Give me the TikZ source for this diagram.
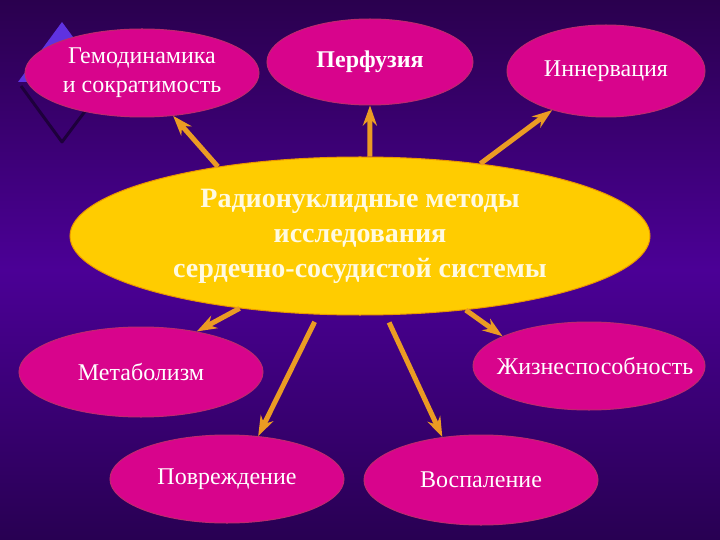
\documentclass[tikz,border=0pt]{standalone}
\usepackage{fontspec}
\setmainfont{Liberation Serif}
\usetikzlibrary{arrows.meta,shapes.geometric}
\definecolor{bgtop}{RGB}{42,0,78}
\definecolor{bgmid}{RGB}{75,0,150}
\definecolor{bgbot}{RGB}{40,0,82}
\definecolor{blobfill}{RGB}{216,4,140}
\definecolor{blobedge}{RGB}{190,40,110}
\definecolor{sunfill}{RGB}{255,204,0}
\definecolor{sunedge}{RGB}{235,150,0}
\definecolor{arrcol}{RGB}{235,155,35}
\definecolor{tricol}{RGB}{95,50,225}
\definecolor{diacol}{RGB}{30,0,60}
\newcommand\zbox[1]{\makebox[0pt]{#1}}
\begin{document}
\begin{tikzpicture}[x=1bp,y=-1bp,
  blob/.style={ellipse, fill=blobfill, draw=blobedge, line width=1bp, inner sep=0pt,
    text=white, font=\fontsize{24bp}{29bp}\selectfont},
  sun/.style={ellipse, fill=sunfill, draw=sunedge, line width=1bp, inner sep=0pt,
    text={rgb,255:red,255;green,250;blue,225}, font=\bfseries\fontsize{28bp}{35bp}\selectfont,
    minimum width=580bp, minimum height=158bp},
  arr/.style={draw=arrcol, line width=5bp, -{Stealth[length=20bp,width=14bp]}}]
\useasboundingbox (0,0) rectangle (720,540);
\shade[top color=bgtop, bottom color=bgbot, middle color=bgmid] (0,0) rectangle (720,540);
% logo decoration
\draw[diacol, line width=3bp, line join=round] (21,86) -- (62,142) -- (104,86);
\fill[tricol] (62,22) -- (18,82) -- (106,82) -- cycle;
% nodes
\node[blob, minimum width=234bp, minimum height=88bp, align=center] (gemo) at (142,73)
  {Гемодинамика\\и сократимость};
\node[blob, minimum width=206bp, minimum height=86bp,
  font=\bfseries\fontsize{24bp}{29bp}\selectfont] (perf) at (370,62) {\zbox{Перфузия}};
\node[blob, minimum width=198bp, minimum height=92bp] (innerv) at (606,71) {\zbox{Иннервация}};
\node[sun, align=center] (main) at (360,236)
  {Радионуклидные методы\\исследования\\сердечно-сосудистой системы};
\node[blob, minimum width=244bp, minimum height=90bp] (metab) at (141,372) {\zbox{Метаболизм}};
\node[blob, minimum width=232bp, minimum height=88bp] (viab) at (589,366)
  {\zbox{\hspace{12bp}Жизнеспособность}};
\node[blob, minimum width=234bp, minimum height=88bp] (povr) at (227,479) {\zbox{Повреждение}};
\node[blob, minimum width=234bp, minimum height=90bp] (vosp) at (481,480) {\zbox{Воспаление}};
% connectors
\draw[arr] (main.154) -- (gemo.-54);
\draw[arr] (main.83) -- (perf.south);
\draw[arr] (main.31) -- (innerv.-144);
\draw[arr] (main.-149) -- (metab.36);
\draw[arr] (main.-35) -- (viab.161);
\draw[arr, shorten <=8bp] (main.-118) -- (povr.54);
\draw[arr, shorten <=8bp] (main.-72) -- (vosp.132);
\end{tikzpicture}
\end{document}
